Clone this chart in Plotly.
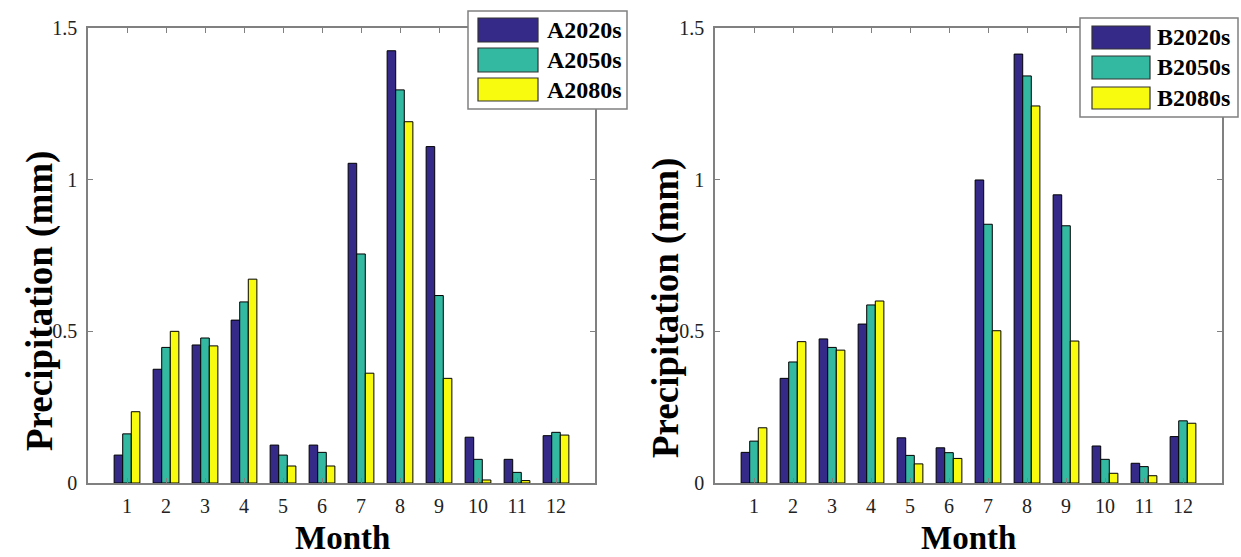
import plotly.graph_objects as go

months = [1, 2, 3, 4, 5, 6, 7, 8, 9, 10, 11, 12]

A2020s = [0.092, 0.375, 0.455, 0.537, 0.125, 0.125, 1.054, 1.425, 1.109, 0.151, 0.078, 0.156]
A2050s = [0.162, 0.447, 0.478, 0.597, 0.092, 0.101, 0.755, 1.296, 0.618, 0.078, 0.035, 0.167]
A2080s = [0.235, 0.500, 0.452, 0.672, 0.056, 0.056, 0.362, 1.191, 0.345, 0.010, 0.008, 0.158]

B2020s = [0.101, 0.345, 0.475, 0.524, 0.149, 0.116, 0.999, 1.414, 0.950, 0.122, 0.065, 0.153]
B2050s = [0.138, 0.399, 0.447, 0.587, 0.091, 0.100, 0.853, 1.342, 0.848, 0.078, 0.054, 0.205]
B2080s = [0.182, 0.466, 0.438, 0.600, 0.063, 0.081, 0.502, 1.243, 0.468, 0.032, 0.024, 0.197]

y_ticks = [0, 0.5, 1, 1.5]
y_tick_labels = ["0", "0.5", "1", "1.5"]

colors = ["#352A87", "#33B8A1", "#F9FB0E"]
names_a = ["A2020s", "A2050s", "A2080s"]
names_b = ["B2020s", "B2050s", "B2080s"]

W, H = 1241, 557
FONT = "Liberation Serif"
AXC = "#808080"

def px(x):
    return x / W

def py(y):
    return 1 - y / H

fig = go.Figure()

for vals, name, c in zip([A2020s, A2050s, A2080s], names_a, colors):
    fig.add_trace(go.Bar(x=months, y=vals, name=name, marker=dict(color=c, line=dict(color="black", width=1)),
                         xaxis="x", yaxis="y", showlegend=False))
for vals, name, c in zip([B2020s, B2050s, B2080s], names_b, colors):
    fig.add_trace(go.Bar(x=months, y=vals, name=name, marker=dict(color=c, line=dict(color="black", width=1)),
                         xaxis="x2", yaxis="y2", showlegend=False))

xcommon = dict(range=[0, 13], tickvals=months, ticktext=[str(m) for m in months], ticks="inside", ticklen=5,
               tickcolor=AXC, showline=True, linecolor=AXC, linewidth=1.5, mirror="ticks", showgrid=False,
               zeroline=False, tickfont=dict(family=FONT, size=20, color="#222"), ticklabelstandoff=4,
               fixedrange=True, automargin=False)
ycommon = dict(range=[0, 1.5], tickvals=y_ticks, ticktext=y_tick_labels, ticks="inside", ticklen=5,
               tickcolor=AXC, showline=True, linecolor=AXC, linewidth=1.5, mirror="ticks", showgrid=False,
               zeroline=False, tickfont=dict(family=FONT, size=20, color="#222"), ticklabelstandoff=5,
               fixedrange=True, automargin=False)

ydom = [py(483), py(28)]
fig.update_layout(
    width=W, height=H,
    margin=dict(l=0, r=0, t=0, b=0, pad=0, autoexpand=False),
    paper_bgcolor="white", plot_bgcolor="white",
    barmode="group", bargap=0.34, bargroupgap=0,
    xaxis=dict(domain=[px(88), px(595)], anchor="y", **xcommon),
    yaxis=dict(domain=ydom, anchor="x", **ycommon),
    xaxis2=dict(domain=[px(715), px(1222)], anchor="y2", **xcommon),
    yaxis2=dict(domain=ydom, anchor="x2", **ycommon),
    showlegend=False,
)

annotations = []
shapes = []

# axis titles
for cx in [342, 968]:
    annotations.append(dict(x=px(cx), y=0, xref="paper", yref="paper", text="<b>Month</b>",
                            showarrow=False, font=dict(family=FONT, size=33, color="black"),
                            xanchor="center", yanchor="bottom", borderpad=0))
for cx, cy in [(40, 301), (666, 308)]:
    annotations.append(dict(x=px(cx), y=py(cy), xref="paper", yref="paper", text="<b>Precipitation (mm)</b>",
                            showarrow=False, textangle=-90, font=dict(family=FONT, size=37, color="black"),
                            xanchor="center", yanchor="middle"))

# legends
def legend(box, sw_x0, sw_x1, rows, text_x, names):
    x0, y0, x1, y1 = box
    shapes.append(dict(type="rect", xref="paper", yref="paper", x0=px(x0), x1=px(x1), y0=py(y1), y1=py(y0),
                       fillcolor="white", line=dict(color=AXC, width=1.5), layer="above"))
    for (r0, r1), name, c in zip(rows, names, colors):
        shapes.append(dict(type="rect", xref="paper", yref="paper", x0=px(sw_x0), x1=px(sw_x1),
                           y0=py(r1), y1=py(r0), fillcolor=c, line=dict(color="#333", width=1.2), layer="above"))
        annotations.append(dict(x=px(text_x), y=py((r0 + r1) / 2), xref="paper", yref="paper",
                                text="<b>%s</b>" % name, showarrow=False,
                                font=dict(family=FONT, size=24, color="black"),
                                xanchor="left", yanchor="middle"))

legend((468, 11, 627, 109), 478, 538, [(18, 42), (48, 72), (78, 101)], 545, names_a)
legend((1080, 18, 1238, 117), 1092, 1150, [(26, 49), (56, 79), (87, 109)], 1155, names_b)

fig.update_layout(annotations=annotations, shapes=shapes)

fig.write_html("out.html", config={"displayModeBar": False},
               post_script="document.body.style.margin='0';document.body.style.overflow='hidden';")
